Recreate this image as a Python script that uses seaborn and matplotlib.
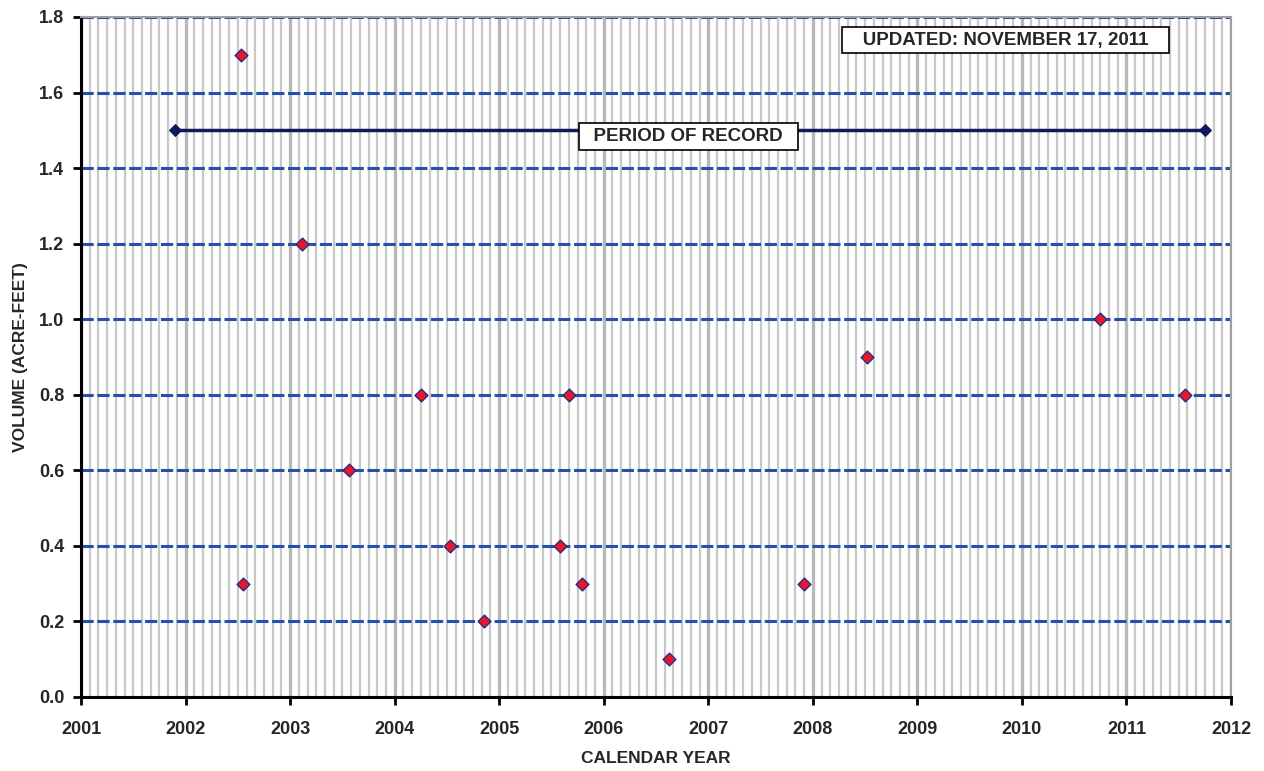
import numpy as np
import pandas as pd
import matplotlib
matplotlib.use("Agg")
import matplotlib.pyplot as plt
from matplotlib.ticker import MultipleLocator
import seaborn as sns

# measured volumes (decimal calendar year, acre-feet)
sample_year = [2002.53, 2002.55, 2003.11, 2003.56, 2004.25, 2004.53, 2004.85,
               2005.58, 2005.67, 2005.79, 2006.62, 2007.92, 2008.52, 2010.75, 2011.56]
volume = [1.7, 0.3, 1.2, 0.6, 0.8, 0.4, 0.2,
          0.4, 0.8, 0.3, 0.1, 0.3, 0.9, 1.0, 0.8]

record_year = [2001.90, 2011.75]
record_level = [1.5, 1.5]

year_ticks = list(range(2001, 2013))
volume_ticks = [0.0, 0.2, 0.4, 0.6, 0.8, 1.0, 1.2, 1.4, 1.6, 1.8]

df = pd.DataFrame({"year": sample_year, "volume": volume})
rec = pd.DataFrame({"year": record_year, "volume": record_level})

sns.set_style("white")
plt.rcParams["font.family"] = ["Liberation Sans", "DejaVu Sans"]
plt.rcParams["font.weight"] = "bold"

fig = plt.figure(figsize=(12.64, 7.71), dpi=100)
ax = fig.add_axes([0.0641, 0.096, 0.9098, 0.882])

# grid: monthly minor, yearly major (vertical), dashed blue horizontal
ax.xaxis.set_minor_locator(MultipleLocator(1 / 12))
ax.grid(which="minor", axis="x", color="#c8c8c8", linewidth=1.6, zorder=0)
ax.grid(which="major", axis="x", color="#b8b8b8", linewidth=2.4, zorder=0)
ax.grid(which="major", axis="y", color="#2a4fa8", linewidth=2.2,
        linestyle=(0, (4, 1.2)), zorder=1)

sns.lineplot(data=rec, x="year", y="volume", ax=ax, color="#101a5a",
             linewidth=2.5, marker="D", markersize=6, markeredgecolor="#101a5a",
             zorder=3)
sns.scatterplot(data=df, x="year", y="volume", ax=ax, marker="D", s=42,
                color="#e8182a", edgecolor="#2a2a80", linewidth=1, zorder=4)

ax.set_xlim(2001, 2012)
ax.set_ylim(0, 1.8)
ax.set_xticks(year_ticks)
ax.set_xticklabels([str(y) for y in year_ticks])
ax.set_yticks(volume_ticks)
ax.set_yticklabels([f"{v:.1f}" for v in volume_ticks])
ax.tick_params(axis="both", which="major", labelsize=13, length=6, width=2,
               direction="out", color="black", bottom=True, left=True)
ax.tick_params(axis="x", which="minor", length=0)
ax.tick_params(axis="x", pad=11)
ax.tick_params(axis="y", pad=6)

ax.set_xlabel("CALENDAR YEAR", fontsize=12.5, fontweight="bold", labelpad=10)
ax.set_ylabel("VOLUME (ACRE-FEET)", fontsize=12.5, fontweight="bold", labelpad=8)

for side in ["left", "bottom"]:
    ax.spines[side].set_color("black")
    ax.spines[side].set_linewidth(2.2)
for side in ["top", "right"]:
    ax.spines[side].set_color("#a0a0a0")
    ax.spines[side].set_linewidth(1.5)

box = dict(boxstyle="square,pad=0.25", facecolor="white", edgecolor="black",
           linewidth=1.2)
ax.text(2006.81, 1.484, "  PERIOD OF RECORD  ", ha="center", va="center",
        fontsize=13.5, fontweight="bold", bbox=box, zorder=5)
ax.text(2009.84, 1.739, "   UPDATED: NOVEMBER 17, 2011   ", ha="center", va="center",
        fontsize=13.5, fontweight="bold", bbox=box, zorder=5)

fig.savefig("out.png", dpi=100)
